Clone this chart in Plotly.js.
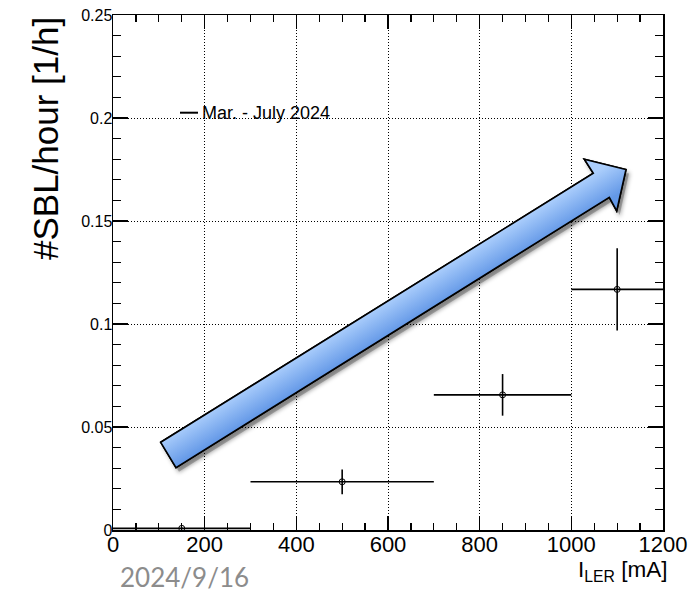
<!DOCTYPE html>
<html>
<head>
<meta charset="utf-8">
<script src="https://cdn.plot.ly/plotly-3.0.1.min.js"></script>
<style>html,body{margin:0;padding:0;background:#fff;}#chart{width:689px;height:594px;}</style>
</head>
<body>
<div id="chart"></div>
<script>
// ---- data ----
const xCenters = [150, 500, 850, 1100];          // I_LER bin centres [mA]
const xHalfWidths = [150, 200, 150, 100];        // bin half widths [mA]
const rates = [0.0008, 0.0234, 0.0656, 0.1168];  // #SBL per hour
const rateErrors = [0.0005, 0.006, 0.0101, 0.02];
const seriesName = 'Mar. - July 2024';
const xTitle = 'I<sub>LER</sub> [mA]';
const yTitle = '#SBL/hour [1/h]';
const dateLabel = '2024/9/16';

// ---- layout geometry helpers (pixel -> paper) ----
const W = 689, H = 594;
const M = {l: 113, r: 26, t: 15, b: 64};
const PW = W - M.l - M.r, PH = H - M.t - M.b;
const px = p => (p - M.l) / PW;
const py = p => (H - M.b - p) / PH;

// decorative arrow outline (pixel positions on the page)
const arrowPts = [[160.7,442.3],[593.3,173.3],[584.3,159.3],[626,169.5],[616.7,211],[609.3,197.3],[176,467.7]];
function pathFrom(pts, dx, dy) {
  return pts.map((p, i) => (i ? 'L' : 'M') + px(p[0] + dx).toFixed(5) + ',' + py(p[1] + dy).toFixed(5)).join(' ') + ' Z';
}
// gradient arrow as an SVG overlay covering the plot area
const arrowSvg =
  "<svg xmlns='http://www.w3.org/2000/svg' width='" + PW + "' height='" + PH + "' viewBox='" + M.l + " " + M.t + " " + PW + " " + PH + "' preserveAspectRatio='none'>" +
  "<defs><linearGradient id='g' gradientUnits='userSpaceOnUse' x1='377' y1='307' x2='393' y2='333'>" +
  "<stop offset='0' stop-color='#abcefc'/><stop offset='1' stop-color='#6398e7'/></linearGradient>" +
  "<filter id='s' x='-10%' y='-10%' width='130%' height='130%'><feDropShadow dx='3' dy='4' stdDeviation='2' flood-color='#000' flood-opacity='0.35'/></filter></defs>" +
  "<polygon points='" + arrowPts.map(p => p.join(',')).join(' ') + "' fill='url(#g)' stroke='#000' stroke-width='1.6' stroke-linejoin='miter' filter='url(#s)'/></svg>";
const arrowSrc = 'data:image/svg+xml;charset=utf-8,' + encodeURIComponent(arrowSvg);

const FONT = 'Liberation Sans, Arial, Helvetica, sans-serif';
const TICKC = '#000';

const trace = {
  type: 'scatter', mode: 'markers', name: seriesName,
  x: xCenters, y: rates,
  error_x: {type: 'data', array: xHalfWidths, visible: true, color: '#000', thickness: 1.6, width: 0},
  error_y: {type: 'data', array: rateErrors, visible: true, color: '#000', thickness: 1.6, width: 0},
  marker: {symbol: 'circle-open', size: 6, color: '#000', line: {width: 1, color: '#000'}},
  cliponaxis: false
};

const axisCommon = {
  ticks: 'inside', tickcolor: TICKC, tickwidth: 1.2,
  showgrid: true, gridcolor: '#000', griddash: '1px,2px', gridwidth: 1,
  showline: true, linecolor: '#000', linewidth: 1.5, mirror: 'ticks',
  zeroline: false, fixedrange: true
};

const layout = {
  width: W, height: H, margin: M,
  paper_bgcolor: '#fff', plot_bgcolor: '#fff',
  showlegend: false,
  font: {family: FONT, color: '#000'},
  xaxis: Object.assign({}, axisCommon, {
    range: [0, 1200], tick0: 0, dtick: 200, ticklen: 14, ticklabelstandoff: -6,
    minor: {dtick: 50, ticklen: 7, tickwidth: 1.2, tickcolor: TICKC, ticks: 'inside', showgrid: false},
    tickfont: {family: FONT, size: 22, color: '#000'}
  }),
  yaxis: Object.assign({}, axisCommon, {
    range: [0, 0.25], tick0: 0, dtick: 0.05, ticklen: 15, ticklabelstandoff: -4,
    minor: {dtick: 0.01, ticklen: 8, tickwidth: 1.2, tickcolor: TICKC, ticks: 'inside', showgrid: false},
    tickfont: {family: FONT, size: 16, color: '#000'}
  }),
  images: [
    {source: arrowSrc, xref: 'paper', yref: 'paper', x: 0, y: 1, sizex: 1, sizey: 1,
     xanchor: 'left', yanchor: 'top', sizing: 'stretch', layer: 'above'}
  ],
  shapes: [
    {type: 'rect', layer: 'between', xref: 'paper', yref: 'paper',
     x0: px(175), x1: px(290), y0: py(178), y1: py(45), fillcolor: '#fff', line: {width: 0}},
    {type: 'line', xref: 'paper', yref: 'paper', x0: px(180), x1: px(198), y0: py(112.7), y1: py(112.7),
     line: {color: '#000', width: 2}},
    {type: 'path', layer: 'below', xref: 'paper', yref: 'paper', path: pathFrom(arrowPts, 3, 4),
     fillcolor: 'rgba(0,0,0,0.22)', line: {width: 0}},
    {type: 'path', layer: 'below', xref: 'paper', yref: 'paper', path: pathFrom(arrowPts, 0, 0),
     fillcolor: '#84aff0', line: {color: '#000', width: 1.6}}
  ],
  annotations: [
    {text: yTitle, textangle: -90, xref: 'paper', yref: 'paper', x: px(45), y: py(139),
     xanchor: 'center', yanchor: 'middle', showarrow: false, font: {family: FONT, size: 35, color: '#000'}},
    {text: xTitle, xref: 'paper', yref: 'paper', x: px(668), y: py(556),
     xanchor: 'right', yanchor: 'top', showarrow: false, borderpad: 0, font: {family: FONT, size: 22.5, color: '#000'}},
    {text: seriesName, xref: 'paper', yref: 'paper', x: px(200), y: py(112.5),
     xanchor: 'left', yanchor: 'middle', showarrow: false, font: {family: FONT, size: 18, color: '#000'}},
    {text: dateLabel, xref: 'paper', yref: 'paper', x: px(184), y: py(577),
     xanchor: 'center', yanchor: 'middle', showarrow: false, borderpad: 0, font: {family: 'Lato, Open Sans, sans-serif', size: 26, color: '#8c8c8c'}}
  ]
};

Plotly.newPlot('chart', [trace], layout, {displayModeBar: false, staticPlot: true});
</script>
</body>
</html>
